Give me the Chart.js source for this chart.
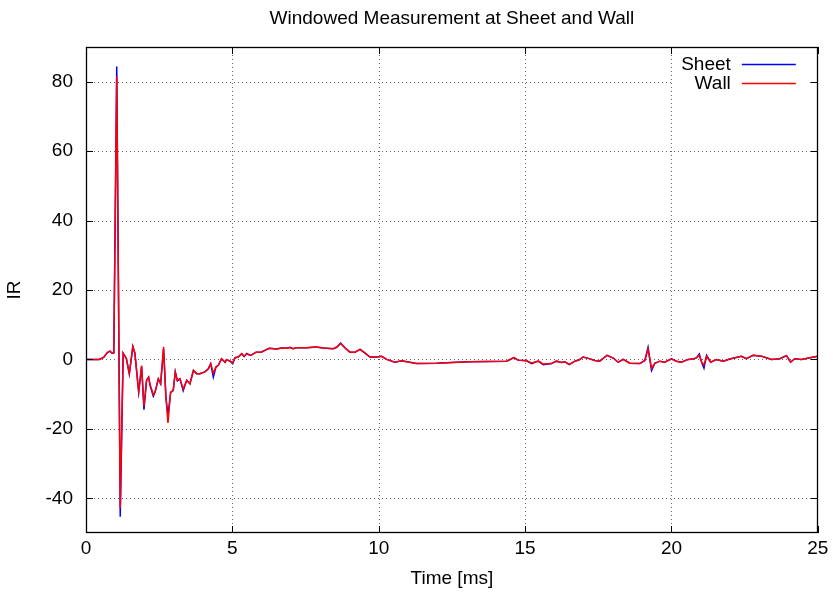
<!DOCTYPE html>
<html>
<head>
<meta charset="utf-8">
<title>Windowed Measurement at Sheet and Wall</title>
<script src="https://cdn.jsdelivr.net/npm/chart.js@4.4.0/dist/chart.umd.min.js"></script>
<style>
  html, body { margin: 0; padding: 0; background: #fff; }
  #wrap { width: 833px; height: 592px; }
</style>
</head>
<body>
<div id="wrap"><canvas id="c" width="833" height="592"></canvas></div>
<script>
// Sample times in milliseconds
const timeMs = [
  0, 0.45, 0.6, 0.73, 0.82, 0.89, 0.95, 1.05, 1.17, 1.27,
  1.38, 1.48, 1.60, 1.67, 1.80, 1.90, 1.98, 2.07, 2.14, 2.19,
  2.30, 2.36, 2.47, 2.55, 2.65, 2.73, 2.80, 2.89, 2.98, 3.05,
  3.12, 3.21, 3.32, 3.44, 3.55, 3.67, 3.78, 3.89, 4.06, 4.18,
  4.26, 4.35, 4.44, 4.52, 4.63, 4.75, 4.80, 4.92, 5.01, 5.09,
  5.20, 5.32, 5.40, 5.49, 5.60, 5.66, 5.81, 5.98, 6.11, 6.26,
  6.51, 6.68, 6.85, 6.97, 7.08, 7.19, 7.54, 7.86, 8.10, 8.45,
  8.56, 8.70, 8.85, 9.02, 9.19, 9.36, 9.49, 9.70, 9.93, 10.10,
  10.27, 10.55, 10.78, 11.29, 11.98, 12.50, 13.11, 13.70, 14.37, 14.62,
  14.76, 15.05, 15.22, 15.45, 15.62, 15.90, 16.07, 16.24, 16.36, 16.51,
  16.70, 16.85, 16.98, 17.16, 17.38, 17.55, 17.80, 18.01, 18.18, 18.35,
  18.58, 18.92, 19.09, 19.20, 19.32, 19.43, 19.60, 19.77, 20.00, 20.17,
  20.34, 20.57, 20.74, 20.86, 20.95, 21.03, 21.11, 21.20, 21.34, 21.54,
  21.77, 21.99, 22.39, 22.56, 22.79, 23.08, 23.42, 23.70, 23.93, 24.07,
  24.21, 24.44, 24.73, 25.00
];

// Impulse response measured at the sheet
const sheetIR = [
  0, 0, 0.6, 2.0, 2.4, 1.8, 1.9, 84.4, -45.3, 1.8,
  0.2, -4.2, 3.7, 1.8, -9.5, -2.0, -14.5, -6.0, -5.1, -7.5,
  -10.6, -9.4, -5.6, -7.0, 3.0, -10.9, -16.0, -9.6, -8.9, -3.6,
  -6.2, -5.6, -9.0, -6.0, -7.0, -3.2, -4.1, -4.1, -3.6, -2.7,
  -1.2, -5.1, -2.2, -1.7, 0.2, -0.8, -0.1, -0.5, -1.2, 0.5,
  0.7, 1.7, 0.8, 1.7, 1.2, 1.3, 2.1, 2.1, 2.6, 3.2,
  3.0, 3.3, 3.2, 3.5, 3.1, 3.4, 3.4, 3.6, 3.3, 3.1,
  3.5, 4.7, 3.3, 2.1, 2.1, 2.9, 2.1, 0.7, 0.7, 0.9,
  0.0, -0.8, -0.4, -1.2, -1.1, -0.9, -0.7, -0.6, -0.5, 0.5,
  -0.2, -0.4, -1.2, -0.5, -1.5, -1.2, -0.5, -0.9, -0.7, -1.5,
  -0.5, -0.1, 0.7, 0.3, -0.3, -0.5, 1.2, 0.4, -0.8, 0.0,
  -1.1, -1.2, -0.3, 3.5, -3.2, -1.1, -0.5, -0.8, 0.2, -0.5,
  -0.8, 0.0, 0.1, 0.5, 1.6, -0.8, -2.5, 1.2, -0.8, 0.0,
  -0.5, 0.1, 0.9, 0.2, 1.2, 0.9, 0.0, 0.2, 1.1, -0.8,
  0.2, 0.0, 0.5, 0.9
];

// Impulse response measured at the wall
const wallIR = [
  0, 0, 0.6, 2.0, 2.4, 1.8, 1.9, 81.5, -42.8, 1.8,
  0.2, -4.0, 3.7, 1.8, -9.3, -1.8, -13.4, -6.0, -5.1, -7.3,
  -10.2, -9.4, -5.6, -7.0, 3.6, -10.9, -18.3, -9.4, -8.9, -3.6,
  -6.0, -5.6, -8.5, -6.0, -7.0, -3.2, -4.1, -4.1, -3.6, -2.7,
  -1.2, -4.0, -2.2, -1.7, 0.2, -0.8, -0.1, -0.5, -1.0, 0.5,
  0.7, 1.6, 0.9, 1.6, 1.2, 1.3, 2.1, 2.1, 2.6, 3.2,
  3.0, 3.3, 3.2, 3.4, 3.1, 3.4, 3.4, 3.6, 3.3, 3.1,
  3.5, 4.6, 3.3, 2.1, 2.1, 2.9, 2.1, 0.7, 0.7, 0.9,
  0.0, -0.8, -0.4, -1.2, -1.1, -0.9, -0.7, -0.6, -0.5, 0.5,
  -0.2, -0.4, -1.0, -0.5, -1.3, -1.2, -0.5, -0.9, -0.7, -1.4,
  -0.5, -0.1, 0.7, 0.3, -0.3, -0.5, 1.2, 0.4, -0.8, 0.0,
  -1.1, -1.2, -0.3, 3.0, -2.6, -1.1, -0.5, -0.8, 0.2, -0.5,
  -0.8, 0.0, 0.1, 0.5, 1.2, -0.8, -1.6, 0.9, -0.8, 0.0,
  -0.5, 0.1, 0.9, 0.2, 1.2, 0.9, 0.0, 0.2, 1.1, -0.8,
  0.2, 0.0, 0.5, 0.9
];

const xTicks = [0, 5, 10, 15, 20, 25];
const yTicks = [-40, -20, 0, 20, 40, 60, 80];
const seriesNames = ['Sheet', 'Wall'];
const seriesColors = ['#0000ff', '#ff0000'];

const FONT = 'Liberation Sans, Arial, Helvetica, sans-serif';
const textFont = { family: FONT, size: 19 };

// Dotted grid, inward tick marks, plot frame and key
const frameAndKey = {
  id: 'frameAndKey',
  beforeDatasetsDraw(chart) {
    const { ctx, chartArea: a, scales: { x, y } } = chart;
    ctx.save();
    ctx.strokeStyle = 'rgba(0,0,0,0.6)';
    ctx.lineWidth = 1;
    ctx.setLineDash([1, 3]);
    ctx.beginPath();
    xTicks.forEach(v => {
      if (v <= x.min || v >= x.max) return;
      const px = Math.round(x.getPixelForValue(v)) + 0.5;
      ctx.moveTo(px, a.top);
      ctx.lineTo(px, a.bottom);
    });
    yTicks.forEach(v => {
      const py = Math.round(y.getPixelForValue(v)) + 0.5;
      ctx.moveTo(a.left, py);
      ctx.lineTo(a.right, py);
    });
    ctx.stroke();
    // opaque key area
    ctx.setLineDash([]);
    ctx.fillStyle = '#fff';
    ctx.fillRect(a.right - 145, a.top + 5, 135, 41);
    ctx.restore();
  },
  afterDatasetsDraw(chart) {
    const { ctx, chartArea: a, scales: { x, y } } = chart;
    ctx.save();
    ctx.setLineDash([]);
    ctx.strokeStyle = '#000';
    ctx.lineWidth = 1;
    const tl = 7;
    ctx.beginPath();
    xTicks.forEach(v => {
      const px = Math.round(x.getPixelForValue(v)) + 0.5;
      ctx.moveTo(px, a.bottom); ctx.lineTo(px, a.bottom - tl);
      ctx.moveTo(px, a.top); ctx.lineTo(px, a.top + tl);
    });
    yTicks.forEach(v => {
      const py = Math.round(y.getPixelForValue(v)) + 0.5;
      ctx.moveTo(a.left, py); ctx.lineTo(a.left + tl, py);
      ctx.moveTo(a.right, py); ctx.lineTo(a.right - tl, py);
    });
    ctx.stroke();
    ctx.lineWidth = 1.3;
    ctx.strokeRect(Math.round(a.left) + 0.5, Math.round(a.top) + 0.5,
                   Math.round(a.right - a.left) - 1, Math.round(a.bottom - a.top) - 1);

    // key: right-aligned label followed by a line sample
    ctx.font = `${textFont.size}px ${FONT}`;
    ctx.textAlign = 'right';
    ctx.textBaseline = 'middle';
    chart.data.datasets.forEach((ds, i) => {
      const ky = Math.round(a.top + 17 + 19 * i) + 0.5;
      ctx.fillStyle = '#000';
      ctx.fillText(ds.label, a.right - 87, ky);
      ctx.strokeStyle = seriesColors[i];
      ctx.lineWidth = 1.5;
      ctx.beginPath();
      ctx.moveTo(a.right - 76, ky);
      ctx.lineTo(a.right - 22, ky);
      ctx.stroke();
    });
    ctx.restore();
  }
};

const seriesValues = [sheetIR, wallIR];

new Chart(document.getElementById('c'), {
  type: 'line',
  data: {
    datasets: seriesNames.map((name, i) => ({
      label: name,
      data: timeMs.map((t, k) => ({ x: t, y: seriesValues[i][k] })),
      borderColor: seriesColors[i],
      backgroundColor: seriesColors[i],
      borderWidth: 1.5,
      pointRadius: 0,
      tension: 0,
      fill: false,
      // later series is drawn above the earlier one
      order: seriesNames.length - i
    }))
  },
  options: {
    responsive: false,
    animation: false,
    devicePixelRatio: 1,
    layout: { padding: { left: 0, right: 15, top: 0, bottom: 0 } },
    plugins: {
      legend: { display: false },
      tooltip: { enabled: false },
      title: {
        display: true,
        fullSize: false,
        text: 'Windowed Measurement at Sheet and Wall',
        color: '#000',
        font: { family: FONT, size: 19, weight: 'normal', lineHeight: 1.2 },
        padding: { top: 7, bottom: 17.2 }
      }
    },
    scales: {
      x: {
        type: 'linear',
        min: 0,
        max: 25,
        afterBuildTicks: s => { s.ticks = xTicks.map(v => ({ value: v })); },
        afterFit: s => { s.height = 59; },
        grid: { display: false, drawTicks: false },
        border: { display: false },
        ticks: { color: '#000', font: textFont, padding: 4.6, maxRotation: 0, autoSkip: false },
        title: {
          display: true, text: 'Time [ms]', color: '#000',
          font: { family: FONT, size: 19, lineHeight: 1.2 },
          padding: { top: 0, bottom: 1.6 }
        }
      },
      y: {
        type: 'linear',
        min: -50,
        max: 90,
        afterBuildTicks: s => { s.ticks = yTicks.map(v => ({ value: v })); },
        afterFit: s => { s.width = 86; },
        grid: { display: false, drawTicks: false },
        border: { display: false },
        ticks: { color: '#000', font: textFont, padding: 13, autoSkip: false },
        title: {
          display: true, text: 'IR', color: '#000',
          font: { family: FONT, size: 19, lineHeight: 1.2 },
          padding: { top: 3.6, bottom: 0 }
        }
      }
    }
  },
  plugins: [frameAndKey]
});
</script>
</body>
</html>
